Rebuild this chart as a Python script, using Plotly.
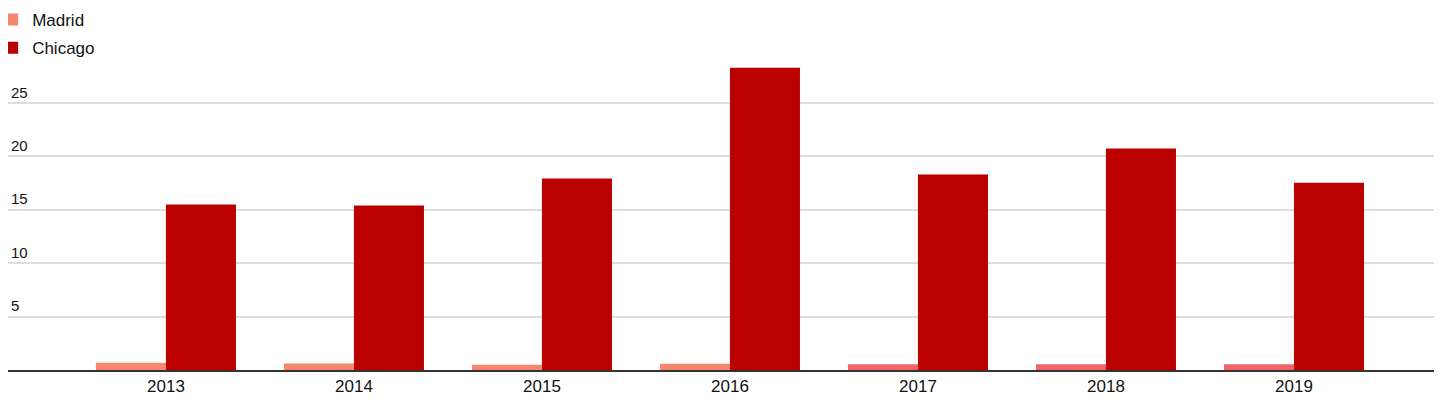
import plotly.graph_objects as go

years = ["2013", "2014", "2015", "2016", "2017", "2018", "2019"]
madrid = [0.68, 0.6, 0.5, 0.58, 0.53, 0.53, 0.53]
chicago = [15.49, 15.4, 17.92, 28.27, 18.3, 20.73, 17.52]
y_ticks = [5, 10, 15, 20, 25]

madrid_colors = ["#f7866f", "#f7866f", "#f7866f", "#f7866f", "#f0646a", "#f0646a", "#f0646a"]

fig = go.Figure()
fig.add_trace(go.Bar(x=years, y=madrid, name="Madrid", legendgroup="m",
                     marker=dict(color=madrid_colors, line=dict(width=0))))
fig.add_trace(go.Bar(x=years, y=chicago, name="Chicago", legendgroup="c",
                     marker=dict(color="#bb0000", line=dict(width=0))))

fig.update_layout(
    width=1442, height=416,
    margin=dict(l=0, r=0, t=52, b=54, autoexpand=False),
    paper_bgcolor="white", plot_bgcolor="white",
    barmode="group", bargap=0.255, bargroupgap=0,
    font=dict(family="Liberation Sans, Arial, sans-serif", color="#111"),
    showlegend=True,
    legend=dict(xref="paper", yref="paper", x=-0.011, y=1.187,
                xanchor="left", yanchor="top", orientation="v",
                traceorder="grouped", tracegroupgap=3,
                font=dict(size=17, color="#111"), bgcolor="rgba(0,0,0,0)",
                itemwidth=30),
    xaxis=dict(type="category", range=[-0.84, 6.83], showgrid=False,
               showline=True, linecolor="#333", linewidth=1.5,
               ticks="", tickfont=dict(size=17, color="#111"), automargin=False),
    yaxis=dict(range=[0, 29.0], tickvals=y_ticks, ticktext=[str(v) for v in y_ticks],
               showgrid=True, gridcolor="#dddddd", gridwidth=1.5,
               zeroline=False, ticklabelposition="inside top", ticklabelstandoff=0,
               tickfont=dict(size=15, color="#111", family="Liberation Sans, Arial, sans-serif"),
               showline=False, ticks="", automargin=False),
)
fig.write_html("out.html")
